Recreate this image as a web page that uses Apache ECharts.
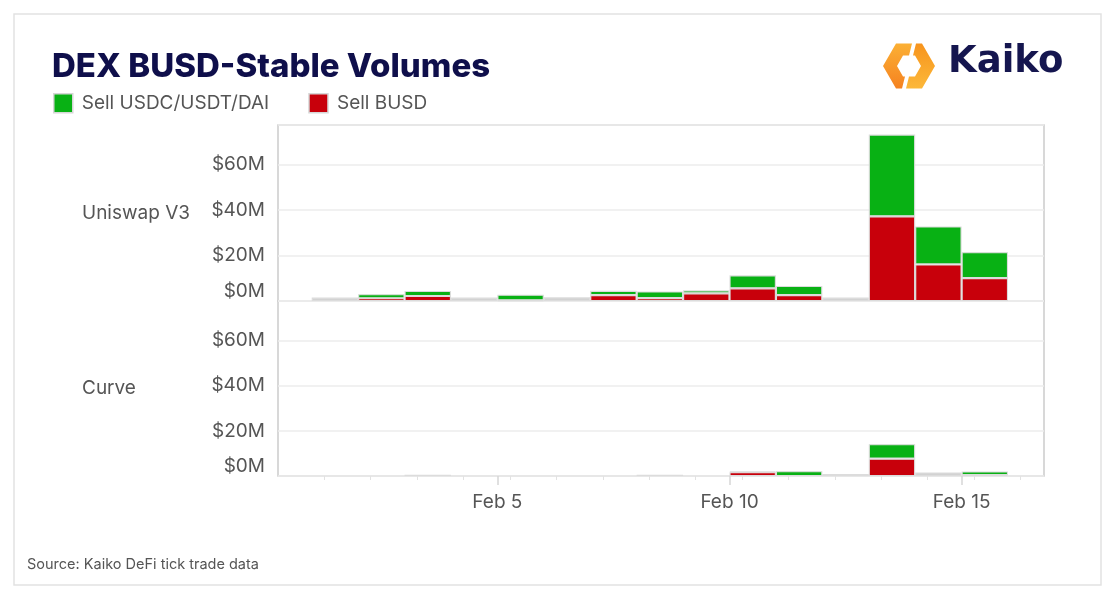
<!DOCTYPE html>
<html>
<head>
<meta charset="utf-8">
<script src="https://cdn.jsdelivr.net/npm/echarts@6/dist/echarts.min.js"></script>
<style>
html,body{margin:0;padding:0;background:#fff;}
#chart{width:1116px;height:600px;}
</style>
</head>
<body>
<div id="chart"></div>
<script>
// ---- data (values in $M, February 2023) ----
const month = 'Feb';
const days = [1, 2, 3, 4, 5, 6, 7, 8, 9, 10, 11, 12, 13, 14, 15];
const panels = ['Uniswap V3', 'Curve'];
const seriesNames = ['Sell USDC/USDT/DAI', 'Sell BUSD'];
const uniSellBusd   = [0, 1.2, 2.2, 0, 0.3, 0, 2.6, 1.3, 3.4, 5.6, 2.6, 0, 37.3, 16.1, 10.1];
const uniSellStable = [0, 1.8, 2.2, 0, 2.5, 0, 1.9, 2.9, 1.3, 5.7, 4.0, 0, 36.0, 16.7, 11.4];
const uniOther      = [1.5, 0, 0, 1.5, 0, 1.6, 0, 0, 0, 0, 0, 1.5, 0, 0, 0];
const crvSellBusd   = [0, 0, 0, 0, 0, 0, 0, 0, 0, 1.7, 0, 0, 7.7, 0, 0.4];
const crvSellStable = [0, 0, 0, 0, 0, 0, 0, 0, 0, 0.3, 2.1, 0, 6.4, 0, 1.6];
const crvOther      = [0, 0, 0.6, 0, 0, 0, 0, 0.6, 0, 0, 0, 0.9, 0, 1.6, 0];
const yTicks = [0, 20, 40, 60];
const xLabelDays = [5, 10, 15];

// ---- styles / layout ----
const RED = '#c8000b', GREEN = '#08b114', GRAY = '#d2d2d2';
const FONT = 'Inter';
const TXT = '#555555';
const Y_MAX = 77.5;
const D_MIN = 0.274, D_MAX = 16.775;       // day-unit range of the framed plot
const PLOT_L = 278, PLOT_W = 766;
const PX_PER_DAY = PLOT_W / (D_MAX - D_MIN);
const BAR_L = PLOT_L + (days[0] - D_MIN) * PX_PER_DAY;
const BAR_W = days.length * PX_PER_DAY;
const TOP = [125, 301], H = [176, 175];

const dayLabels = days.map(d => month + ' ' + d);

const chart = echarts.init(document.getElementById('chart'), null, {renderer: 'canvas'});

function frameY(gi, name) {
  return {
    type: 'value', gridIndex: gi, min: 0, max: Y_MAX, interval: 20,
    name: name, nameLocation: 'middle', nameRotate: 0, nameGap: 196,
    nameTextStyle: {align: 'left', verticalAlign: 'middle', fontFamily: FONT, fontSize: 19, color: TXT},
    axisLine: {show: false}, axisTick: {show: false},
    axisLabel: {
      fontFamily: FONT, fontSize: 19, color: TXT, margin: 13,
      verticalAlignMinLabel: 'bottom',
      formatter: v => yTicks.indexOf(Math.round(v)) >= 0 && Math.abs(v - Math.round(v)) < 1e-6 ? '$' + Math.round(v) + 'M' : ''
    },
    splitLine: {lineStyle: {color: '#ececec', width: 1.5}}
  };
}
const barY = gi => ({type: 'value', gridIndex: gi, min: 0, max: Y_MAX, show: false, splitLine: {show: false}});
const barX = gi => ({type: 'category', gridIndex: gi, data: dayLabels, show: false, boundaryGap: true,
  axisLine: {show: false}, axisTick: {show: false}, axisLabel: {show: false}, splitLine: {show: false}});

function barSeries(name, data, color, xi, yi) {
  return {
    name: name, type: 'bar', stack: 'p' + xi, xAxisIndex: xi, yAxisIndex: yi,
    data: data.map(v => (v === 0 ? null : v)), barCategoryGap: '0%',
    itemStyle: {color: color, borderColor: '#dcdcdc', borderWidth: 1.1},
    emphasis: {disabled: true}
  };
}

const minorTicks = [];
for (let d = 0; d <= 16; d++) minorTicks.push(d + 0.27);

const option = {
  animation: false,
  backgroundColor: '#ffffff',
  title: {
    text: 'DEX BUSD-Stable Volumes', left: 47, top: 46,
    textStyle: {fontFamily: FONT, fontSize: 33, fontWeight: 800, color: '#0f0f4b'}
  },
  legend: {
    data: seriesNames, left: 53, top: 93, itemWidth: 19, itemHeight: 19, itemGap: 39,
    icon: 'rect', padding: 0,
    itemStyle: {borderColor: '#d6d6d6', borderWidth: 1.5},
    textStyle: {fontFamily: FONT, fontSize: 19, color: TXT, padding: [0, 0, 0, 4]}
  },
  grid: [
    {left: PLOT_L, top: TOP[0], width: PLOT_W, height: H[0], show: true, borderColor: '#cccccc', borderWidth: 1.5, backgroundColor: 'transparent'},
    {left: PLOT_L, top: TOP[1], width: PLOT_W, height: H[1], show: true, borderColor: '#cccccc', borderWidth: 1.5, backgroundColor: 'transparent'},
    {left: BAR_L, top: TOP[0], width: BAR_W, height: H[0], show: false},
    {left: BAR_L, top: TOP[1], width: BAR_W, height: H[1], show: false}
  ],
  xAxis: [
    {type: 'value', gridIndex: 0, min: D_MIN, max: D_MAX, show: false, splitLine: {show: false}},
    {type: 'value', gridIndex: 1, min: D_MIN, max: D_MAX, position: 'bottom',
      axisLine: {show: false}, splitLine: {show: false},
      axisTick: {show: true, customValues: xLabelDays, length: 9, lineStyle: {color: '#d6d6d6', width: 1.5}},
      axisLabel: {customValues: xLabelDays, formatter: v => month + ' ' + v,
        fontFamily: FONT, fontSize: 19, color: TXT, margin: 17}
    },
    {type: 'value', gridIndex: 1, min: D_MIN, max: D_MAX, position: 'bottom',
      axisLine: {show: false}, splitLine: {show: false},
      axisTick: {show: true, customValues: minorTicks, length: 4, lineStyle: {color: '#e2e2e2', width: 1}},
      axisLabel: {show: false}
    },
    barX(2),
    barX(3)
  ],
  yAxis: [frameY(0, panels[0]), frameY(1, panels[1]), barY(2), barY(3)],
  series: [
    barSeries(seriesNames[1], uniSellBusd, RED, 3, 2),
    barSeries(seriesNames[0], uniSellStable, GREEN, 3, 2),
    barSeries('Other', uniOther, GRAY, 3, 2),
    barSeries(seriesNames[1], crvSellBusd, RED, 4, 3),
    barSeries(seriesNames[0], crvSellStable, GREEN, 4, 3),
    barSeries('Other', crvOther, GRAY, 4, 3)
  ],
  graphic: [
    {type: 'rect', shape: {x: 14, y: 14, width: 1087, height: 571}, style: {fill: 'none', stroke: '#e2e2e2', lineWidth: 1.5}, silent: true, z: -1},
    {type: 'polygon', shape: {points: [[912,43.5],[896,43.5],[883,66],[896,88.5],[902,88.5],[905,76.4],[903,76.4],[897,66],[903,55.6],[909,55.6]]},
      style: {fill: new echarts.graphic.LinearGradient(0, 0, 0, 1, [{offset: 0, color: '#fbb035'}, {offset: 1, color: '#f58220'}])}},
    {type: 'polygon', shape: {points: [[906,88.5],[922,88.5],[935,66],[922,43.5],[916,43.5],[913,55.6],[915,55.6],[921,66],[915,76.4],[909,76.4]]},
      style: {fill: new echarts.graphic.LinearGradient(0, 0, 0, 1, [{offset: 0, color: '#f7941d'}, {offset: 1, color: '#fcb83a'}])}},
    {type: 'text', left: 948, top: 44, style: {text: 'Kaiko', font: 'bold 37px "DejaVu Sans"', fill: '#15164f'}},
    {type: 'text', left: 27, top: 557, style: {text: 'Source: Kaiko DeFi tick trade data', font: '14.5px Inter', fill: TXT}}
  ]
};
chart.setOption(option);
</script>
</body>
</html>
